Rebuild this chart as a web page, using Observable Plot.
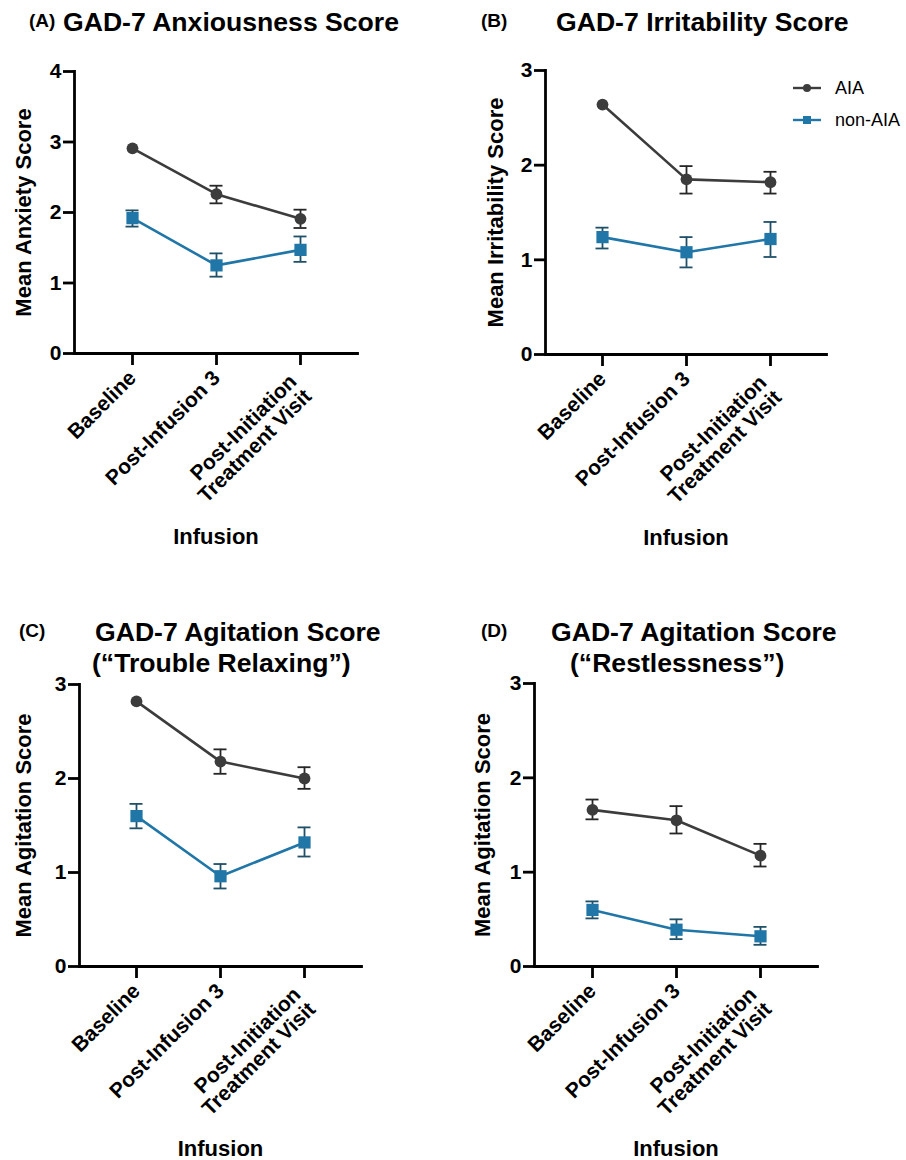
<!DOCTYPE html>
<html>
<head>
<meta charset="utf-8">
<script src="https://cdn.jsdelivr.net/npm/d3@7"></script>
<script src="https://cdn.jsdelivr.net/npm/@observablehq/plot@0.6"></script>
<style>
  html, body { margin: 0; padding: 0; background: #fff; }
  body { font-family: "Liberation Sans", Arial, Helvetica, sans-serif; color: #000; }
  #root { position: relative; width: 906px; height: 1160px; overflow: hidden; }
  .quad { position: absolute; width: 453px; height: 580px; }
  .quad svg { background: transparent !important; overflow: visible; }
  .ttl { position: absolute; z-index: 2; font-weight: bold; font-size: 26.6px; line-height: 26px; white-space: nowrap; }
  .tag { position: absolute; z-index: 2; font-weight: bold; font-size: 19px; line-height: 20px; white-space: nowrap; }
  .leg { position: absolute; z-index: 2; font-size: 18px; line-height: 18px; white-space: nowrap; display: flex; align-items: center; }
</style>
</head>
<body>
<div id="root"></div>
<script>
// ---------- data ----------
const visits = ["Baseline", "Post-Infusion 3", "Post-Initiation\nTreatment Visit"];
const groups = ["AIA", "non-AIA"];
const groupColors = ["#3c3c3c", "#2176a8"];
const errorColors = ["#262626", "#1f5068"];
const groupSymbols = ["circle", "square"];

// (A) GAD-7 Anxiousness Score
const anxAIA   = [2.91, 2.26, 1.91];
const anxAIALo = [2.91, 2.13, 1.78];
const anxAIAHi = [2.91, 2.38, 2.04];
const anxNon   = [1.92, 1.25, 1.47];
const anxNonLo = [1.80, 1.09, 1.30];
const anxNonHi = [2.03, 1.42, 1.66];

// (B) GAD-7 Irritability Score
const irrAIA   = [2.64, 1.85, 1.82];
const irrAIALo = [2.64, 1.70, 1.70];
const irrAIAHi = [2.64, 1.99, 1.93];
const irrNon   = [1.24, 1.08, 1.22];
const irrNonLo = [1.12, 0.92, 1.03];
const irrNonHi = [1.34, 1.24, 1.40];

// (C) GAD-7 Agitation Score ("Trouble Relaxing")
const relAIA   = [2.82, 2.18, 2.00];
const relAIALo = [2.82, 2.05, 1.89];
const relAIAHi = [2.82, 2.31, 2.12];
const relNon   = [1.60, 0.96, 1.32];
const relNonLo = [1.47, 0.83, 1.17];
const relNonHi = [1.73, 1.09, 1.48];

// (D) GAD-7 Agitation Score ("Restlessness")
const resAIA   = [1.66, 1.55, 1.175];
const resAIALo = [1.56, 1.41, 1.06];
const resAIAHi = [1.77, 1.70, 1.30];
const resNon   = [0.60, 0.39, 0.32];
const resNonLo = [0.51, 0.29, 0.23];
const resNonHi = [0.69, 0.50, 0.42];

const panels = [
  {tag: "(A)", title: ["GAD-7 Anxiousness Score"], ylabel: "Mean Anxiety Score", yMax: 4, yTicks: [0,1,2,3,4],
   series: [[anxAIA, anxAIALo, anxAIAHi], [anxNon, anxNonLo, anxNonHi]]},
  {tag: "(B)", title: ["GAD-7 Irritability Score"], ylabel: "Mean Irritability Score", yMax: 3, yTicks: [0,1,2,3],
   series: [[irrAIA, irrAIALo, irrAIAHi], [irrNon, irrNonLo, irrNonHi]]},
  {tag: "(C)", title: ["GAD-7 Agitation Score", "(\u201CTrouble Relaxing\u201D)"], ylabel: "Mean Agitation Score", yMax: 3, yTicks: [0,1,2,3],
   series: [[relAIA, relAIALo, relAIAHi], [relNon, relNonLo, relNonHi]]},
  {tag: "(D)", title: ["GAD-7 Agitation Score", "(\u201CRestlessness\u201D)"], ylabel: "Mean Agitation Score", yMax: 3, yTicks: [0,1,2,3],
   series: [[resAIA, resAIALo, resAIAHi], [resNon, resNonLo, resNonHi]]}
];

// ---------- layout ----------
const layout = [
  {left: 0,   top: 0,   m: {l: 74, r: 96, t: 71, b: 227}, ydx: -51, idy: 190,
   tagPos: [29, 11], titlePos: [[63, 9]]},
  {left: 453, top: 0,   m: {l: 92, r: 80, t: 70, b: 226}, ydx: -50, idy: 190,
   tagPos: [481, 11], titlePos: [[556, 9]]},
  {left: 0,   top: 580, m: {l: 79, r: 92, t: 104, b: 194}, ydx: -56, idy: 189,
   tagPos: [19, 621], titlePos: [[95, 619], [92, 650]]},
  {left: 453, top: 580, m: {l: 81, r: 89, t: 103, b: 194}, ydx: -52, idy: 189,
   tagPos: [481, 621], titlePos: [[551, 619], [570, 650]]}
];

const root = document.getElementById("root");
const AX = 2.8;
const singleLine = visits.filter(v => !v.includes("\n"));
const multiLine = visits.filter(v => v.includes("\n"));

panels.forEach((p, k) => {
  const L = layout[k];
  const marks = [];
  const rowsByGroup = groups.map((g, gi) => visits.map((v, i) => ({
    visit: v, group: g,
    mean: p.series[gi][0][i], lo: p.series[gi][1][i], hi: p.series[gi][2][i]
  })));
  // error bars (only where the interval is visible beyond the marker)
  rowsByGroup.forEach((d, gi) => {
    const e = d.filter(r => r.hi - r.lo > 0.05);
    marks.push(Plot.ruleX(e, {x: "visit", y1: "lo", y2: "hi", stroke: errorColors[gi], strokeWidth: 1.8}));
    marks.push(Plot.ruleY(e, {x1: "visit", x2: "visit", y: "lo", stroke: errorColors[gi], strokeWidth: 1.8, insetLeft: -6.5, insetRight: -6.5}));
    marks.push(Plot.ruleY(e, {x1: "visit", x2: "visit", y: "hi", stroke: errorColors[gi], strokeWidth: 1.8, insetLeft: -6.5, insetRight: -6.5}));
  });
  // lines
  rowsByGroup.forEach((d, gi) => {
    marks.push(Plot.line(d, {x: "visit", y: "mean", stroke: groupColors[gi], strokeWidth: 2.6}));
  });
  // markers
  rowsByGroup.forEach((d, gi) => {
    marks.push(Plot.dot(d, {x: "visit", y: "mean", symbol: groupSymbols[gi], r: gi === 0 ? 5.9 : 6.9, fill: groupColors[gi], stroke: "none"}));
  });
  // axes
  marks.push(Plot.axisY({ticks: p.yTicks, tickFormat: d => String(d), tickSize: 11, tickPadding: 2, fontSize: 21, fontWeight: "bold", strokeWidth: AX, label: null}));
  marks.push(Plot.axisX({tickSize: 12, tickPadding: 9, tickRotate: -45, fontSize: 21, fontWeight: "bold", strokeWidth: AX, label: null,
                         tickFormat: d => d.includes("\n") ? "" : d}));
  marks.push(Plot.axisX({ticks: multiLine, tickSize: 0, tickPadding: 21, dy: 11, tickRotate: -45, fontSize: 21, fontWeight: "bold", label: null}));
  marks.push(Plot.frame({anchor: "left", strokeWidth: AX}));
  marks.push(Plot.frame({anchor: "bottom", strokeWidth: AX}));
  marks.push(Plot.text([p.ylabel], {frameAnchor: "left", textAnchor: "middle", rotate: -90, dx: L.ydx, fontSize: 22, fontWeight: "bold"}));
  marks.push(Plot.text(["Infusion"], {frameAnchor: "bottom", textAnchor: "middle", dy: L.idy, fontSize: 22, fontWeight: "bold"}));

  const svg = Plot.plot({
    width: 453, height: 580,
    marginLeft: L.m.l, marginRight: L.m.r, marginTop: L.m.t, marginBottom: L.m.b,
    x: {type: "point", domain: visits, padding: 0.665},
    y: {domain: [0, p.yMax]},
    style: {fontFamily: "'Liberation Sans', Arial, sans-serif", fontWeight: "bold", color: "#000", background: "transparent", overflow: "visible"},
    marks
  });
  const q = document.createElement("div");
  q.className = "quad";
  q.style.left = L.left + "px";
  q.style.top = L.top + "px";
  q.appendChild(svg);
  root.appendChild(q);

  const tag = document.createElement("div");
  tag.className = "tag";
  tag.textContent = p.tag;
  tag.style.left = L.tagPos[0] + "px";
  tag.style.top = L.tagPos[1] + "px";
  root.appendChild(tag);

  p.title.forEach((t, ti) => {
    const d = document.createElement("div");
    d.className = "ttl";
    d.textContent = t;
    d.style.left = L.titlePos[ti][0] + "px";
    d.style.top = L.titlePos[ti][1] + "px";
    root.appendChild(d);
  });
});

// legend (panel B)
const legendTops = [88, 120];
groups.forEach((g, gi) => {
  const item = document.createElement("div");
  item.className = "leg";
  item.style.left = "793px";
  item.style.top = (legendTops[gi] - 9) + "px";
  const ns = "http://www.w3.org/2000/svg";
  const s = document.createElementNS(ns, "svg");
  s.setAttribute("width", "28"); s.setAttribute("height", "18");
  const ln = document.createElementNS(ns, "line");
  ln.setAttribute("x1", "0"); ln.setAttribute("x2", "28"); ln.setAttribute("y1", "9"); ln.setAttribute("y2", "9");
  ln.setAttribute("stroke", groupColors[gi]); ln.setAttribute("stroke-width", "2.4");
  s.appendChild(ln);
  if (groupSymbols[gi] === "circle") {
    const c = document.createElementNS(ns, "circle");
    c.setAttribute("cx", "14"); c.setAttribute("cy", "9"); c.setAttribute("r", "4");
    c.setAttribute("fill", groupColors[gi]);
    s.appendChild(c);
  } else {
    const r = document.createElementNS(ns, "rect");
    r.setAttribute("x", "10"); r.setAttribute("y", "5"); r.setAttribute("width", "8"); r.setAttribute("height", "8");
    r.setAttribute("fill", groupColors[gi]);
    s.appendChild(r);
  }
  item.appendChild(s);
  const sp = document.createElement("span");
  sp.textContent = g;
  sp.style.marginLeft = "14px";
  item.appendChild(sp);
  root.appendChild(item);
});
</script>
</body>
</html>
